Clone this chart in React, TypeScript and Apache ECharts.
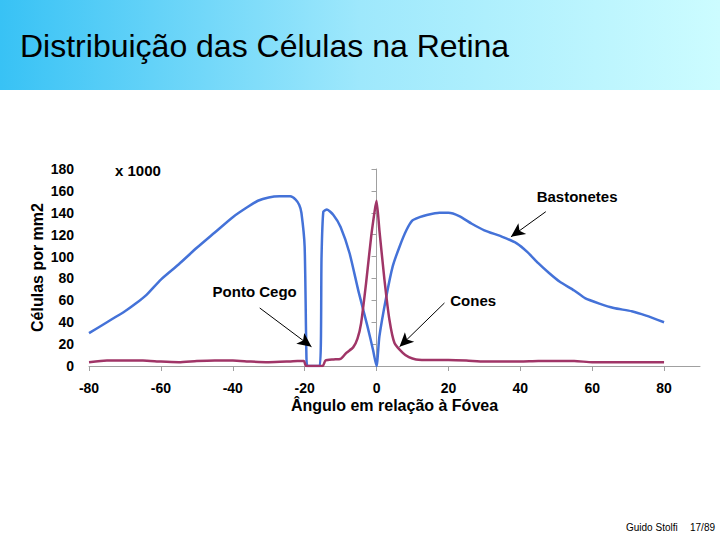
import React, { useEffect, useRef } from "react";
import * as echarts from "echarts";

const rodAngles = [-80, -75, -70, -67, -64, -60, -55, -50, -45, -40, -36, -33, -30, -27, -24, -22.5, -21.5, -20.9, -20, -19.5, -19.2, -15.8, -15.3, -14.8, -13.8, -12, -10, -7.5, -5, -2.5, -1, 0, 0.8, 2.7, 4.5, 6.4, 8.3, 10, 12, 14, 17.5, 20, 23, 26.5, 30, 35, 39, 42, 45, 48, 51, 55, 58, 62, 66, 71, 75, 80];
const rodValues = [30, 40, 50, 57, 65, 79, 93, 108, 122, 136, 145, 151, 154, 155, 155, 152, 147, 140, 109, 8, 0, 0, 100, 141, 143, 138, 127, 103, 68, 36, 15, 0, 27, 63, 91, 109, 124, 133, 136, 138, 140, 140, 137, 130, 124, 118, 112, 104, 94, 85, 77, 69, 62, 57, 53, 50, 46, 40];

const coneAngles = [-80, -75, -70, -65, -60, -55, -50, -45, -40, -35, -30, -25, -22, -20.2, -19.6, -15, -14.2, -12, -10, -8.4, -6.5, -5.3, -4.3, -2.9, -1.5, -0.5, 0, 0.8, 2.2, 3.6, 5, 7.3, 9, 11, 15, 20, 25, 30, 35, 40, 45, 50, 55, 60, 65, 70, 75, 80];
const coneValues = [3.5, 5, 5, 5, 4, 3.5, 4.5, 5, 5, 4, 3.5, 4, 4.5, 4.5, 0, 0, 5, 6, 6.5, 12, 17, 25, 39, 76, 118, 142, 151, 124, 79, 42, 21, 12, 8, 6, 5.5, 5.5, 5, 4, 4, 4, 4.5, 4.5, 4.5, 3.5, 3.5, 3.5, 3.5, 3.5];

const xTicks = [-80, -60, -40, -20, 0, 20, 40, 60, 80];

const title = "Distribuição das Células na Retina";
const yName = "Células por mm2";
const xName = "Ângulo em relação à Fóvea";
const rodName = "Bastonetes";
const coneName = "Cones";
const blindName = "Ponto Cego";

const FONT = "'Liberation Sans', Arial, sans-serif";

function label(coord: number[], text: string) {
  return {
    coord,
    value: text,
    symbol: "rect",
    symbolSize: 1,
    itemStyle: { color: "rgba(0,0,0,0)" },
    label: {
      show: true,
      position: "inside",
      formatter: text,
      color: "#000",
      fontFamily: FONT,
      fontWeight: "bold",
      fontSize: 15,
    },
  };
}

export default function App() {
  const ref = useRef<HTMLDivElement>(null);
  useEffect(() => {
    if (!ref.current) return;
    const chart = echarts.init(ref.current, null, { renderer: "svg" });
    const arrowLine = { color: "#000", width: 1, type: "solid" };
    chart.setOption({
      animation: false,
      backgroundColor: "#fff",
      grid: { left: 89, right: 20, top: 169, bottom: 174 },
      xAxis: {
        type: "value",
        min: -80,
        max: 90,
        interval: 20,
        name: xName,
        nameLocation: "middle",
        nameGap: 31,
        nameMoveOverlap: false,
        nameTextStyle: { fontFamily: FONT, fontWeight: "bold", fontSize: 16, color: "#000" },
        axisLine: { show: true, onZero: false, lineStyle: { color: "#a0a0a0", width: 1 } },
        axisTick: { show: true, length: 5, customValues: xTicks, lineStyle: { color: "#a0a0a0" } },
        axisLabel: {
          customValues: xTicks,
          formatter: (v: number) => (v > 80 ? "" : String(v)),
          margin: 15,
          fontFamily: FONT,
          fontWeight: "bold",
          fontSize: 14,
          color: "#000",
        },
        splitLine: { show: false },
      },
      yAxis: {
        type: "value",
        min: 0,
        max: 180,
        interval: 20,
        name: yName,
        nameLocation: "middle",
        nameGap: 44,
        nameRotate: 90,
        nameMoveOverlap: false,
        nameTextStyle: { fontFamily: FONT, fontWeight: "bold", fontSize: 16, color: "#000" },
        axisLine: { show: true, lineStyle: { color: "#a0a0a0", width: 1 } },
        axisTick: { show: true, length: 5, lineStyle: { color: "#a0a0a0" } },
        axisLabel: {
          margin: 15,
          fontFamily: FONT,
          fontWeight: "bold",
          fontSize: 14,
          color: "#000",
        },
        splitLine: { show: false },
      },
      series: [
        {
          name: rodName,
          type: "line",
          data: rodAngles.map((a, i) => [a, rodValues[i]]),
          showSymbol: false,
          smooth: 0.2,
          lineStyle: { color: "#4472D8", width: 2.5 },
          itemStyle: { color: "#4472D8" },
          z: 2,
          markLine: {
            silent: true,
            symbol: ["none", "arrow"],
            symbolSize: [10, 14],
            label: { show: false },
            lineStyle: arrowLine,
            data: [[{ coord: [47.1, 141] }, { coord: [37.4, 118] }]],
          },
          markPoint: {
            silent: true,
            data: [label([55.8, 154.5], rodName)],
          },
        },
        {
          name: coneName,
          type: "line",
          data: coneAngles.map((a, i) => [a, coneValues[i]]),
          showSymbol: false,
          smooth: 0.2,
          lineStyle: { color: "#A03567", width: 2.5 },
          itemStyle: { color: "#A03567" },
          z: 3,
          markLine: {
            silent: true,
            symbol: ["none", "arrow"],
            symbolSize: [10, 14],
            label: { show: false },
            lineStyle: arrowLine,
            data: [
              [{ coord: [-32.5, 53] }, { coord: [-18.1, 17.6] }],
              [{ coord: [18.9, 57.6] }, { coord: [6.4, 17.6] }],
            ],
          },
          markPoint: {
            silent: true,
            data: [label([-33.9, 68.5], blindName), label([26.9, 60.3], coneName)],
          },
        },
      ],
      graphic: [
        {
          type: "rect",
          shape: { x: 0, y: 0, width: 720, height: 90 },
          style: {
            fill: new echarts.graphic.LinearGradient(0, 0, 1, 0, [
              { offset: 0, color: "#38C2F5" },
              { offset: 0.5, color: "#9EE8FC" },
              { offset: 1, color: "#CCFCFF" },
            ]),
          },
          z: -10,
        },
        {
          type: "text",
          x: 20,
          y: 46,
          style: {
            text: title,
            fill: "#000",
            font: `32px ${FONT}`,
            textVerticalAlign: "middle",
          },
        },
        {
          type: "text",
          x: 115,
          y: 170,
          style: {
            text: "x 1000",
            fill: "#000",
            font: `bold 15px ${FONT}`,
            textVerticalAlign: "middle",
          },
        },
        {
          type: "text",
          x: 626,
          y: 527,
          style: {
            text: "Guido Stolfi",
            fill: "#000",
            font: `10px ${FONT}`,
            textVerticalAlign: "middle",
          },
        },
        {
          type: "text",
          x: 690,
          y: 527,
          style: {
            text: "17/89",
            fill: "#000",
            font: `10px ${FONT}`,
            textVerticalAlign: "middle",
          },
        },
      ],
    });
    return () => chart.dispose();
  }, []);
  return (
    <div
      ref={ref}
      style={{ position: "fixed", left: 0, top: 0, width: 720, height: 540, background: "#fff" }}
    />
  );
}
